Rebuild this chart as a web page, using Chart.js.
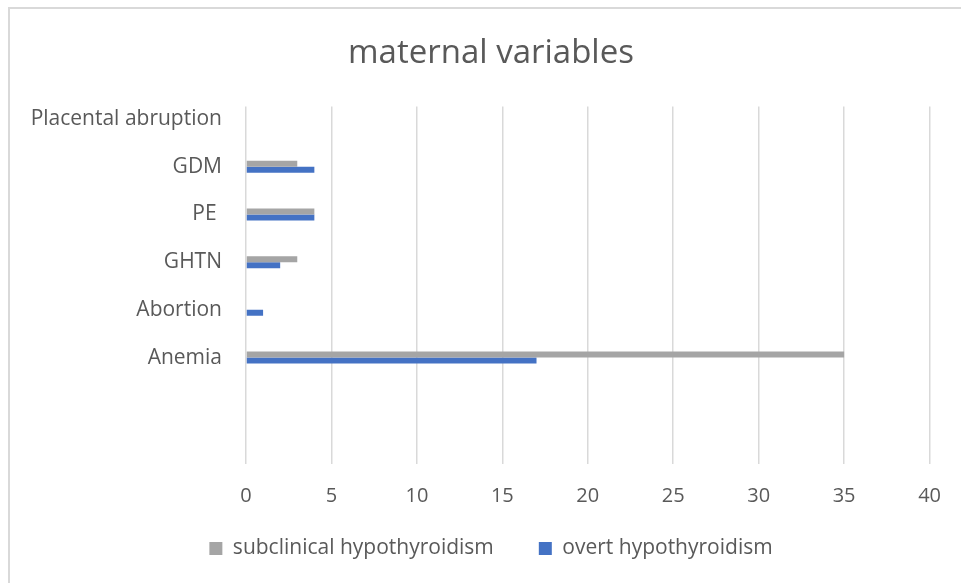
<!DOCTYPE html>
<html>
<head>
<meta charset="utf-8">
<script src="https://cdn.jsdelivr.net/npm/chart.js@4.4.1/dist/chart.umd.min.js"></script>
<style>
  html, body { margin: 0; padding: 0; background: #fff; overflow: hidden; }
  #wrap { position: relative; width: 961px; height: 583px; }
  #frame { position: absolute; left: 8px; top: 7px; width: 2000px; height: 2000px;
           border-left: 2px solid #d9d9d9; border-top: 2px solid #d9d9d9; }
  canvas { position: absolute; left: 0; top: 0; }
</style>
</head>
<body>
<div id="wrap">
  <div id="frame"></div>
  <canvas id="c" width="961" height="583"></canvas>
</div>
<script>
// data, top category first
let categories = ['Placental abruption', 'GDM', 'PE ', 'GHTN', 'Abortion', 'Anemia'];
let subclinical = [0, 3, 4, 3, 0, 35];
let overt = [0, 4, 4, 2, 1, 17];
let xTicks = [0, 5, 10, 15, 20, 25, 30, 35, 40];

let colors = ['#A5A5A5', '#4472C4'];
let grey = '#595959';
let font = 'Open Sans';

// categories sit at 0..5 on a linear axis, so the empty space below Anemia matches the original
function points(vals) {
  return vals.map((v, i) => ({ x: v, y: i }));
}

// labels are clipped to their scale box, give them room after layout
let labelRoom = {
  id: 'labelRoom',
  afterLayout(c) {
    c.scales.y.left = 0;
    c.scales.x.bottom = c.height;
  }
};

let chart = new Chart(document.getElementById('c'), {
  type: 'bar',
  data: {
    datasets: [
      { label: 'subclinical hypothyroidism', data: points(subclinical), backgroundColor: colors[0], barThickness: 6, inflateAmount: 0 },
      { label: 'overt hypothyroidism', data: points(overt), backgroundColor: colors[1], barThickness: 6, inflateAmount: 0 }
    ]
  },
  options: {
    indexAxis: 'y',
    responsive: false,
    animation: false,
    layout: { padding: { left: 51, right: 30, top: 0, bottom: 14 } },
    scales: {
      x: {
        type: 'linear',
        min: 0, max: 40,
        afterBuildTicks: s => { s.ticks = xTicks.map(v => ({ value: v })); },
        afterFit: s => { s.height = 29; },
        grid: { color: '#d9d9d9', lineWidth: 1.5, drawTicks: false },
        border: { display: false },
        ticks: { color: grey, font: { family: font, size: 20 }, padding: 20 }
      },
      y: {
        type: 'linear',
        reverse: true,
        offset: false,
        min: -0.26, max: 7.23,
        afterBuildTicks: s => { s.ticks = categories.map((c, i) => ({ value: i })); },
        afterFit: s => { s.width = 195; },
        grid: { display: false, drawTicks: false, offset: false },
        border: { display: false },
        ticks: {
          color: grey, font: { family: font, size: 21 }, padding: 24,
          callback: v => categories[v]
        }
      }
    },
    plugins: {
      title: {
        display: true,
        text: 'maternal variables',
        color: grey,
        font: { family: font, size: 33, weight: 'normal' },
        padding: { top: 34, bottom: 33 }
      },
      legend: {
        position: 'bottom',
        labels: {
          color: grey,
          font: { family: font, size: 21 },
          boxWidth: 13, boxHeight: 13,
          padding: 45,
          generateLabels: c => c.data.datasets.map((d, i) => ({
            text: d.label, fillStyle: colors[i], strokeStyle: colors[i],
            lineWidth: 0, hidden: false, datasetIndex: i, fontColor: grey
          }))
        }
      },
      tooltip: { enabled: false }
    }
  },
  plugins: [labelRoom]
});
</script>
</body>
</html>
